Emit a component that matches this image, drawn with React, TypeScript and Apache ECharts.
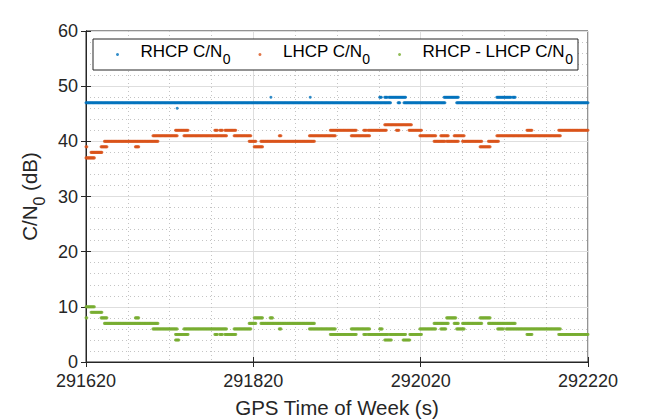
import React, { useEffect, useRef } from "react";
import * as echarts from "echarts";

// GPS time of week (s) origin of the x axis
const T0 = 291620;
const T1 = 292220;
const xTicks = [291620, 291820, 292020, 292220];
const yTicks = [0, 10, 20, 30, 40, 50, 60];

// Runs of constant value sampled every second: [startTime, endTime, dB]
const rhcpRuns: [number, number, number][] = [
  [291620, 291984, 47],
  [291993, 291995, 47],
  [292000, 292049, 47],
  [292063, 292220, 47],
  [291729, 291729, 46],
  [291841, 291841, 48],
  [291888, 291888, 48],
  [291971, 291973, 48],
  [291977, 291980, 48],
  [291982, 292002, 48],
  [292048, 292065, 48],
  [292111, 292128, 48],
  [292130, 292133, 48],
];

const lhcpRuns: [number, number, number][] = [
  [291620, 291630, 37],
  [291626, 291639, 38],
  [291620, 291621, 39],
  [291638, 291645, 39],
  [291679, 291683, 39],
  [291821, 291831, 39],
  [292091, 292103, 39],
  [291642, 291706, 40],
  [291815, 291823, 40],
  [291829, 291893, 40],
  [292036, 292049, 40],
  [292051, 292065, 40],
  [292070, 292093, 40],
  [292101, 292113, 40],
  [291700, 291729, 41],
  [291737, 291788, 41],
  [291797, 291817, 41],
  [291851, 291853, 41],
  [291887, 291918, 41],
  [291937, 291959, 41],
  [292019, 292038, 41],
  [292044, 292053, 41],
  [292060, 292072, 41],
  [292111, 292187, 41],
  [291727, 291742, 42],
  [291774, 291777, 42],
  [291780, 291783, 42],
  [291786, 291799, 42],
  [291912, 291943, 42],
  [291952, 291955, 42],
  [291957, 291979, 42],
  [291991, 291994, 42],
  [292006, 292021, 42],
  [292147, 292153, 42],
  [292185, 292220, 42],
  [291977, 292009, 43],
];

const diffRuns: [number, number, number][] = [
  [291620, 291630, 10],
  [291626, 291639, 9],
  [291620, 291621, 8],
  [291638, 291645, 8],
  [291679, 291683, 8],
  [291821, 291831, 8],
  [291840, 291843, 8],
  [292051, 292062, 8],
  [292091, 292103, 8],
  [291642, 291706, 7],
  [291815, 291823, 7],
  [291829, 291893, 7],
  [292036, 292053, 7],
  [292060, 292065, 7],
  [292070, 292093, 7],
  [292101, 292129, 7],
  [292130, 292133, 7],
  [291700, 291729, 6],
  [291737, 291788, 6],
  [291797, 291817, 6],
  [291851, 291853, 6],
  [291887, 291918, 6],
  [291937, 291959, 6],
  [291971, 291974, 6],
  [292019, 292038, 6],
  [292044, 292050, 6],
  [292063, 292072, 6],
  [292112, 292119, 6],
  [292122, 292187, 6],
  [291727, 291742, 5],
  [291774, 291777, 5],
  [291780, 291783, 5],
  [291786, 291799, 5],
  [291912, 291943, 5],
  [291952, 291955, 5],
  [291957, 291981, 5],
  [291983, 292002, 5],
  [292007, 292021, 5],
  [292147, 292153, 5],
  [292185, 292220, 5],
  [291727, 291731, 4],
  [291977, 291985, 4],
  [291999, 292007, 4],
];

const seriesNames = ["RHCP C/N0", "LHCP C/N0", "RHCP - LHCP C/N0"];
const seriesColors = ["#0072BD", "#D95319", "#77AC30"];

function expandRuns(runs: [number, number, number][]) {
  const pts: number[][] = [];
  for (const [a, b, v] of runs) {
    for (let t = a; t <= b; t++) pts.push([t - T0, v]);
  }
  return pts;
}

const FONT = "'Liberation Sans', Arial, Helvetica, sans-serif";
const TXT = "#262626";

export default function App() {
  const ref = useRef<HTMLDivElement>(null);
  useEffect(() => {
    if (!ref.current) return;
    const chart = echarts.init(ref.current, null, { renderer: "svg" });
    const span = T1 - T0;
    const xInterval = xTicks[1] - xTicks[0];
    const yInterval = yTicks[1] - yTicks[0];
    const sub = (s: string) => {
      const m = s.match(/^(.*C\/N)0$/);
      return m ? `{m|${m[1]}}{s|0}` : `{m|${s}}`;
    };
    const richText = {
      m: { fontSize: 17, fontFamily: FONT, color: "#000", padding: [0, 0, 6, 0] },
      s: { fontSize: 14, fontFamily: FONT, color: "#000", verticalAlign: "bottom" },
    };
    const baseX = {
      type: "value",
      min: 0,
      max: span,
      interval: xInterval,
    };
    const baseY = {
      type: "value",
      min: yTicks[0],
      max: yTicks[yTicks.length - 1],
      interval: yInterval,
    };
    chart.setOption({
      animation: false,
      backgroundColor: "#ffffff",
      grid: {
        left: 86,
        right: 63,
        top: 31,
        bottom: 58,
        containLabel: false,
        outerBoundsMode: "none",
        show: true,
        borderColor: TXT,
        borderWidth: 1,
        backgroundColor: "#ffffff",
      },
      legend: {
        data: seriesNames,
        left: 93,
        top: 39,
        padding: [4, 5, 4, 23],
        itemGap: 28,
        itemWidth: 36,
        itemHeight: 3,
        borderColor: TXT,
        borderWidth: 1,
        backgroundColor: "#ffffff",
        formatter: (name: string) => sub(name),
        textStyle: { rich: richText, fontSize: 17, fontFamily: FONT, padding: [0, 0, 0, 0] },
        z: 10,
      },
      xAxis: [
        {
          ...baseX,
          position: "bottom",
          name: "GPS Time of Week (s)",
          nameLocation: "middle",
          nameGap: 35,
          nameTextStyle: { fontSize: 20.5, fontFamily: FONT, color: TXT },
          axisLine: { show: true, lineStyle: { color: TXT, width: 1 } },
          axisTick: { show: true, inside: true, length: 5, lineStyle: { color: TXT } },
          axisLabel: {
            show: true,
            margin: 10,
            fontSize: 18,
            fontFamily: FONT,
            color: TXT,
            formatter: (v: number) => String(v + T0),
          },
          splitLine: { show: true, lineStyle: { color: "#dedede", width: 1 } },
          minorTick: { show: false, splitNumber: 4 },
          minorSplitLine: { show: true, lineStyle: { color: "#c4c4c4", width: 1, type: [1, 3] } },
        },
        {
          ...baseX,
          position: "top",
          axisLine: { show: true, lineStyle: { color: TXT, width: 1 } },
          axisTick: { show: true, inside: true, length: 5, lineStyle: { color: TXT } },
          axisLabel: { show: false },
          splitLine: { show: false },
        },
      ],
      yAxis: [
        {
          ...baseY,
          position: "left",
          name: "{m|C/N}{s|0}{m| (dB)}",
          nameLocation: "middle",
          nameGap: 37,
          nameTextStyle: {
            fontSize: 20.5,
            fontFamily: FONT,
            color: TXT,
            rich: {
              m: { fontSize: 20.5, fontFamily: FONT, color: TXT, padding: [0, 0, 7, 0] },
              s: { fontSize: 16, fontFamily: FONT, color: TXT, verticalAlign: "bottom" },
            },
          },
          axisLine: { show: true, lineStyle: { color: TXT, width: 1 } },
          axisTick: { show: true, inside: true, length: 5, lineStyle: { color: TXT } },
          axisLabel: { show: true, margin: 8, fontSize: 18, fontFamily: FONT, color: TXT },
          splitLine: { show: true, lineStyle: { color: "#dedede", width: 1 } },
          minorTick: { show: false, splitNumber: 5 },
          minorSplitLine: { show: true, lineStyle: { color: "#c4c4c4", width: 1, type: [1, 3] } },
        },
        {
          ...baseY,
          position: "right",
          axisLine: { show: true, lineStyle: { color: TXT, width: 1 } },
          axisTick: { show: true, inside: true, length: 5, lineStyle: { color: TXT } },
          axisLabel: { show: false },
          splitLine: { show: false },
        },
      ],
      series: [rhcpRuns, lhcpRuns, diffRuns].map((runs, i) => ({
        type: "scatter",
        name: seriesNames[i],
        xAxisIndex: 0,
        yAxisIndex: 0,
        symbol: "circle",
        symbolSize: 3,
        itemStyle: { color: seriesColors[i] },
        data: expandRuns(runs),
        silent: true,
      })),
    });
    return () => chart.dispose();
  }, []);
  return (
    <div
      ref={ref}
      style={{ position: "absolute", left: 0, top: 0, width: 651, height: 420 }}
    />
  );
}
